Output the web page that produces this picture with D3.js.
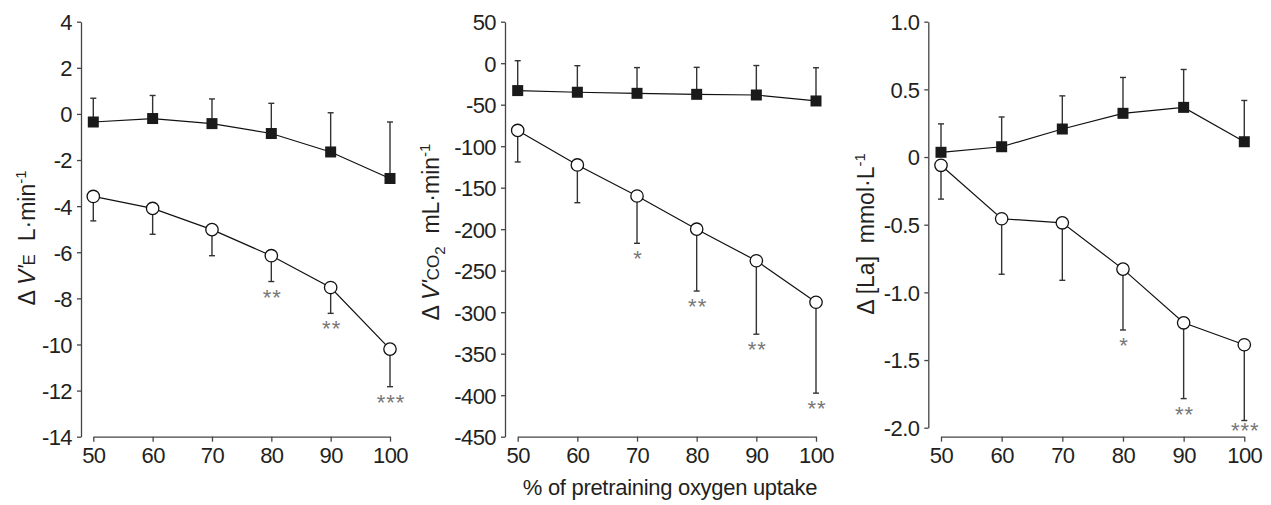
<!DOCTYPE html>
<html>
<head>
<meta charset="utf-8">
<script src="https://cdn.jsdelivr.net/npm/d3@7"></script>
<style>
  body { margin: 0; background: #fff; }
  svg { font-family: "Liberation Sans", Arial, sans-serif; }
  .tick text { font-size: 22px; fill: #231f20; letter-spacing: -0.6px; }
  .axis path, .axis line { stroke: #444; stroke-width: 1.3; }
</style>
</head>
<body>
<div id="chart"></div>
<script>
// x levels (% of pretraining oxygen uptake)
var xLevels = [50, 60, 70, 80, 90, 100];

// panel 1: delta VE (L/min)
var veSquare = [-0.35, -0.2, -0.42, -0.85, -1.65, -2.8];
var veSquareSd = [1.03, 1.0, 1.07, 1.31, 1.7, 2.45];
var veCircle = [-3.58, -4.1, -5.02, -6.15, -7.53, -10.2];
var veCircleSd = [1.06, 1.12, 1.13, 1.12, 1.12, 1.63];
var veStars = ["", "", "", "**", "**", "***"];
var veTicks = [-14, -12, -10, -8, -6, -4, -2, 0, 2, 4];

// panel 2: delta VCO2 (mL/min)
var co2Square = [-33, -35, -36.3, -37.5, -38.3, -45.5];
var co2SquareSd = [36, 32, 31, 32.5, 35.5, 40];
var co2Circle = [-81, -122.6, -160, -200, -238, -288];
var co2CircleSd = [38, 45.5, 57, 74.5, 88.5, 109.5];
var co2Stars = ["", "", "*", "**", "**", "**"];
var co2Ticks = [-450, -400, -350, -300, -250, -200, -150, -100, -50, 0, 50];

// panel 3: delta [La] (mmol/L)
var laSquare = [0.035, 0.076, 0.207, 0.323, 0.367, 0.113];
var laSquareSd = [0.21, 0.22, 0.245, 0.265, 0.28, 0.305];
var laCircle = [-0.061, -0.456, -0.486, -0.828, -1.225, -1.387];
var laCircleSd = [0.25, 0.41, 0.425, 0.45, 0.56, 0.56];
var laStars = ["", "", "", "*", "**", "***"];
var laTicks = [-2, -1.5, -1, -0.5, 0, 0.5, 1];
var laTickLabels = ["-2.0", "-1.5", "-1.0", "-0.5", "0", "0.5", "1.0"];

var xTitle = "% of pretraining oxygen uptake";

var svg = d3.select("#chart").append("svg")
  .attr("width", 1271)
  .attr("height", 505);

var panels = [
  {yx: 81, x0: 93.3, x1: 390, yTop: 21.7, yBot: 436.7, domain: [-14, 4], ticks: veTicks,
   fmt: function(d) { return d; },
   sq: veSquare, sqSd: veSquareSd, ci: veCircle, ciSd: veCircleSd, stars: veStars,
   labelX: 35, labelY: 238, label: "ve"},
  {yx: 505, x0: 517.7, x1: 816, yTop: 21.7, yBot: 436.7, domain: [-450, 50], ticks: co2Ticks,
   fmt: function(d) { return d; },
   sq: co2Square, sqSd: co2SquareSd, ci: co2Circle, ciSd: co2CircleSd, stars: co2Stars,
   labelX: 439, labelY: 232, label: "co2"},
  {yx: 928.3, x0: 941, x1: 1244.3, yTop: 21.7, yBot: 427.7, domain: [-2, 1], ticks: laTicks,
   fmt: function(d, i) { return laTickLabels[i]; },
   sq: laSquare, sqSd: laSquareSd, ci: laCircle, ciSd: laCircleSd, stars: laStars,
   labelX: 874, labelY: 234, label: "la"}
];

var xAxisY = 436.7;

panels.forEach(function(p) {
  var x = d3.scaleLinear().domain([50, 100]).range([p.x0, p.x1]);
  var y = d3.scaleLinear().domain(p.domain).range([p.yBot, p.yTop]);

  // y axis
  svg.append("g")
    .attr("class", "axis")
    .attr("transform", "translate(" + p.yx + ",0)")
    .call(d3.axisLeft(y).tickValues(p.ticks).tickFormat(p.fmt).tickSize(4).tickSizeOuter(0).tickPadding(5))
    .selectAll(".tick text").attr("dy", "0.36em");

  // x axis
  svg.append("g")
    .attr("class", "axis")
    .attr("transform", "translate(0," + xAxisY + ")")
    .call(d3.axisBottom(x).tickValues(xLevels).tickSize(5).tickSizeOuter(0).tickPadding(6));

  var line = d3.line()
    .x(function(d, i) { return x(xLevels[i]); })
    .y(function(d) { return y(d); });

  var g = svg.append("g");

  // error bars: squares go up, circles go down
  var cap = 3;
  xLevels.forEach(function(lv, i) {
    var top = y(p.sq[i] + p.sqSd[i]);
    g.append("line").attr("x1", x(lv)).attr("x2", x(lv))
      .attr("y1", y(p.sq[i])).attr("y2", top)
      .attr("stroke", "#333").attr("stroke-width", 1.4);
    g.append("line").attr("x1", x(lv) - cap).attr("x2", x(lv) + cap)
      .attr("y1", top).attr("y2", top)
      .attr("stroke", "#333").attr("stroke-width", 1.4);

    var bot = y(p.ci[i] - p.ciSd[i]);
    g.append("line").attr("x1", x(lv)).attr("x2", x(lv))
      .attr("y1", y(p.ci[i])).attr("y2", bot)
      .attr("stroke", "#333").attr("stroke-width", 1.4);
    g.append("line").attr("x1", x(lv) - cap).attr("x2", x(lv) + cap)
      .attr("y1", bot).attr("y2", bot)
      .attr("stroke", "#333").attr("stroke-width", 1.4);

    if (p.stars[i]) {
      // keep the last lactate stars clear of the axis labels
      var off = bot > 415 ? 17 : 23;
      g.append("text")
        .attr("x", x(lv) + 1)
        .attr("y", bot + off)
        .attr("text-anchor", "middle")
        .attr("font-size", 22)
        .attr("letter-spacing", 1)
        .attr("fill", "#777")
        .text(p.stars[i]);
    }
  });

  g.append("path").datum(p.sq).attr("d", line)
    .attr("fill", "none").attr("stroke", "#111").attr("stroke-width", 1.2);
  g.append("path").datum(p.ci).attr("d", line)
    .attr("fill", "none").attr("stroke", "#111").attr("stroke-width", 1.2);

  g.selectAll(".sq").data(p.sq).enter().append("rect")
    .attr("x", function(d, i) { return x(xLevels[i]) - 5.5; })
    .attr("y", function(d) { return y(d) - 5.5; })
    .attr("width", 11).attr("height", 11)
    .attr("fill", "#1a1a1a");

  g.selectAll(".ci").data(p.ci).enter().append("circle")
    .attr("cx", function(d, i) { return x(xLevels[i]); })
    .attr("cy", function(d) { return y(d); })
    .attr("r", 6.2)
    .attr("fill", "#fff").attr("stroke", "#111").attr("stroke-width", 1.3);

  // y label
  var t = svg.append("text")
    .attr("transform", "translate(" + p.labelX + "," + p.labelY + ") rotate(-90)")
    .attr("text-anchor", "middle")
    .attr("font-size", 23)
    .attr("fill", "#231f20")
    .attr("xml:space", "preserve");
  if (p.label == "ve") {
    t.append("tspan").text("\u0394 ");
    t.append("tspan").attr("font-style", "italic").text("V'");
    t.append("tspan").attr("font-size", 17).text("E");
    t.append("tspan").text("  L\u00b7min");
    t.append("tspan").attr("font-size", 15).attr("dy", -9).text("-1");
  } else if (p.label == "co2") {
    t.append("tspan").text("\u0394 ");
    t.append("tspan").attr("font-style", "italic").text("V'");
    t.append("tspan").attr("font-size", 17).text("CO");
    t.append("tspan").attr("font-size", 15).attr("dy", 6).text("2");
    t.append("tspan").attr("dy", -6).text("  mL\u00b7min");
    t.append("tspan").attr("font-size", 15).attr("dy", -9).text("-1");
  } else {
    t.append("tspan").text("\u0394 [La]  mmol\u00b7L");
    t.append("tspan").attr("font-size", 15).attr("dy", -9).text("-1");
  }
});

svg.append("text")
  .attr("x", 670)
  .attr("y", 495)
  .attr("text-anchor", "middle")
  .attr("font-size", 22)
  .attr("letter-spacing", -0.3)
  .attr("fill", "#231f20")
  .text(xTitle);
</script>
</body>
</html>
